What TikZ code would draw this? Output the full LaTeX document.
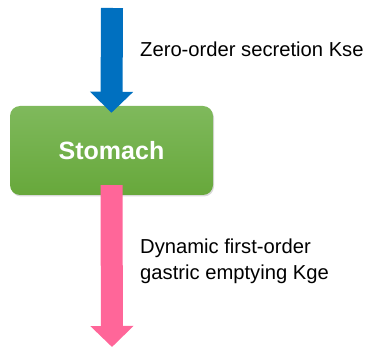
\documentclass[tikz,border=0pt]{standalone}
\usepackage{fontspec}
\setmainfont{Liberation Sans}
\usetikzlibrary{arrows.meta,shadows}

\definecolor{secblue}{HTML}{0070C0}
\definecolor{emptypink}{HTML}{FF6699}
\definecolor{stomtop}{HTML}{7FB95C}
\definecolor{stombot}{HTML}{67A83B}

\tikzset{
    compartment/.style={rounded corners=10pt, top color=stomtop, bottom color=stombot,
        minimum width=203pt, minimum height=89pt, inner sep=0pt,
        drop shadow={opacity=0.3, shadow xshift=1pt, shadow yshift=-1.5pt},
        text=white, font=\bfseries\fontsize{25}{30}\selectfont},
    flowarrow/.style={line width=22pt, -{Triangle[width=42pt,length=21pt]}},
    ratelabel/.style={inner sep=0pt, align=left, font=\fontsize{20.2}{26}\selectfont}
}

\begin{document}
\begin{tikzpicture}[x=1pt, y=-1pt]
    \useasboundingbox (0,0) rectangle (369,347);

    \coordinate (source) at (112,8);
    \coordinate (sink) at (112,347);

    \node[compartment] (stomach) at (111.5,150.5) {Stomach};

    % secretion into the stomach
    \draw[flowarrow, secblue, shorten >=-7pt] (source) -- (stomach.north);

    % emptying out of the stomach
    \draw[flowarrow, emptypink] ([yshift=10pt]stomach.south) -- (sink);

    \node[ratelabel, anchor=base west] (kse) at (140,56.5) {Zero-order secretion Kse};
    \node[ratelabel, anchor=north west] (kge) at (140,239) {Dynamic first-order\\gastric emptying Kge};

\end{tikzpicture}
\end{document}
